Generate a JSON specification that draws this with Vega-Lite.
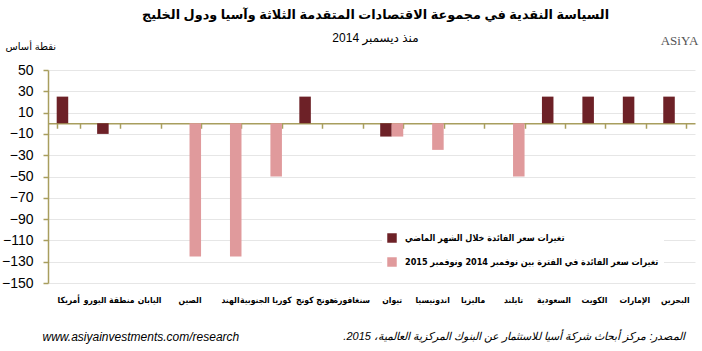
{
  "$schema": "https://vega.github.io/schema/vega-lite/v6.json",
  "width": 647,
  "height": 213,
  "autosize": {"type": "none"},
  "padding": {"left": 48, "top": 70, "right": 7, "bottom": 68},
  "background": "white",
  "config": {"view": {"stroke": null}, "font": "Liberation Sans, DejaVu Sans"},
  "title": {
    "text": "السياسة النقدية في مجموعة الاقتصادات المتقدمة الثلاثة وآسيا ودول الخليج",
    "subtitle": "منذ ديسمبر 2014",
    "anchor": "middle",
    "font": "Liberation Sans, DejaVu Sans",
    "fontSize": 12.8,
    "fontWeight": "bold",
    "color": "black",
    "subtitleFont": "Liberation Sans, DejaVu Sans",
    "subtitleFontSize": 12,
    "subtitleColor": "black",
    "subtitlePadding": 11,
    "offset": -10,
    "dx": 4
  },
  "data": {
    "values": [
      {"country": "أمريكا", "series": "تغيرات سعر الفائدة خلال الشهر الماضي", "value": 25},
      {"country": "أمريكا", "series": "تغيرات سعر الفائدة في الفترة بين نوفمبر 2014 ونوفمبر 2015", "value": 0},
      {"country": "منطقة اليورو", "series": "تغيرات سعر الفائدة خلال الشهر الماضي", "value": -10},
      {"country": "منطقة اليورو", "series": "تغيرات سعر الفائدة في الفترة بين نوفمبر 2014 ونوفمبر 2015", "value": 0},
      {"country": "اليابان", "series": "تغيرات سعر الفائدة خلال الشهر الماضي", "value": 0},
      {"country": "اليابان", "series": "تغيرات سعر الفائدة في الفترة بين نوفمبر 2014 ونوفمبر 2015", "value": 0},
      {"country": "الصين", "series": "تغيرات سعر الفائدة خلال الشهر الماضي", "value": 0},
      {"country": "الصين", "series": "تغيرات سعر الفائدة في الفترة بين نوفمبر 2014 ونوفمبر 2015", "value": -125},
      {"country": "الهند", "series": "تغيرات سعر الفائدة خلال الشهر الماضي", "value": 0},
      {"country": "الهند", "series": "تغيرات سعر الفائدة في الفترة بين نوفمبر 2014 ونوفمبر 2015", "value": -125},
      {"country": "كوريا الجنوبية", "series": "تغيرات سعر الفائدة خلال الشهر الماضي", "value": 0},
      {"country": "كوريا الجنوبية", "series": "تغيرات سعر الفائدة في الفترة بين نوفمبر 2014 ونوفمبر 2015", "value": -50},
      {"country": "هونج كونج", "series": "تغيرات سعر الفائدة خلال الشهر الماضي", "value": 25},
      {"country": "هونج كونج", "series": "تغيرات سعر الفائدة في الفترة بين نوفمبر 2014 ونوفمبر 2015", "value": 0},
      {"country": "سنغافورة", "series": "تغيرات سعر الفائدة خلال الشهر الماضي", "value": 0},
      {"country": "سنغافورة", "series": "تغيرات سعر الفائدة في الفترة بين نوفمبر 2014 ونوفمبر 2015", "value": 0},
      {"country": "تيوان", "series": "تغيرات سعر الفائدة خلال الشهر الماضي", "value": -12.5},
      {"country": "تيوان", "series": "تغيرات سعر الفائدة في الفترة بين نوفمبر 2014 ونوفمبر 2015", "value": -12.5},
      {"country": "اندونيسيا", "series": "تغيرات سعر الفائدة خلال الشهر الماضي", "value": 0},
      {"country": "اندونيسيا", "series": "تغيرات سعر الفائدة في الفترة بين نوفمبر 2014 ونوفمبر 2015", "value": -25},
      {"country": "ماليزيا", "series": "تغيرات سعر الفائدة خلال الشهر الماضي", "value": 0},
      {"country": "ماليزيا", "series": "تغيرات سعر الفائدة في الفترة بين نوفمبر 2014 ونوفمبر 2015", "value": 0},
      {"country": "تايلند", "series": "تغيرات سعر الفائدة خلال الشهر الماضي", "value": 0},
      {"country": "تايلند", "series": "تغيرات سعر الفائدة في الفترة بين نوفمبر 2014 ونوفمبر 2015", "value": -50},
      {"country": "السعودية", "series": "تغيرات سعر الفائدة خلال الشهر الماضي", "value": 25},
      {"country": "السعودية", "series": "تغيرات سعر الفائدة في الفترة بين نوفمبر 2014 ونوفمبر 2015", "value": 0},
      {"country": "الكويت", "series": "تغيرات سعر الفائدة خلال الشهر الماضي", "value": 25},
      {"country": "الكويت", "series": "تغيرات سعر الفائدة في الفترة بين نوفمبر 2014 ونوفمبر 2015", "value": 0},
      {"country": "الإمارات", "series": "تغيرات سعر الفائدة خلال الشهر الماضي", "value": 25},
      {"country": "الإمارات", "series": "تغيرات سعر الفائدة في الفترة بين نوفمبر 2014 ونوفمبر 2015", "value": 0},
      {"country": "البحرين", "series": "تغيرات سعر الفائدة خلال الشهر الماضي", "value": 25},
      {"country": "البحرين", "series": "تغيرات سعر الفائدة في الفترة بين نوفمبر 2014 ونوفمبر 2015", "value": 0}
    ]
  },
  "layer": [
    {
      "mark": {"type": "bar"},
      "encoding": {
        "x": {
          "field": "country",
          "type": "nominal",
          "sort": null,
          "scale": {"paddingInner": 0.43, "paddingOuter": 0.215},
          "axis": {
            "orient": "bottom",
            "offset": -159.75,
            "domainColor": "#a89e5e",
            "domainWidth": 1.5,
            "tickColor": "#a89e5e",
            "tickSize": 5,
            "tickWidth": 1.5,
            "tickBand": "extent",
            "labelPadding": 167,
            "labelFontSize": 8.5,
            "labelFontWeight": "bold",
            "labelFont": "DejaVu Sans Condensed, DejaVu Sans",
            "labelColor": "black",
            "labelAngle": 0,
            "labelOverlap": false,
            "labelBound": false,
            "labelOffset": {"condition": [{"test": "datum.value === 'كوريا الجنوبية'", "value": -5}, {"test": "datum.value === 'هونج كونج'", "value": 4}], "value": 0},
            "grid": false,
            "title": "المصدر: مركز أبحاث شركة أسيا للاستثمار عن البنوك المركزية العالمية، 2015.\u200f",
            "titleX": 637,
            "titleY": 212.75,
            "titleAlign": "right",
            "titleBaseline": "middle",
            "titleAngle": 0,
            "titleFontSize": 11,
            "titleFontStyle": "italic",
            "titleFontWeight": "normal",
            "titleColor": "black",
            "titleFont": "Liberation Sans, DejaVu Sans"
          }
        },
        "xOffset": {
          "field": "series",
          "type": "nominal",
          "scale": {"domain": ["تغيرات سعر الفائدة خلال الشهر الماضي", "تغيرات سعر الفائدة في الفترة بين نوفمبر 2014 ونوفمبر 2015"], "paddingInner": 0, "paddingOuter": 0}
        },
        "y": {
          "field": "value",
          "type": "quantitative",
          "scale": {"domain": [-150, 50], "nice": false, "zero": false},
          "axis": {
            "values": [-150, -130, -110, -90, -70, -50, -30, -10, 10, 30, 50],
            "domainColor": "#a89e5e",
            "domainWidth": 1.5,
            "tickColor": "#a89e5e",
            "tickSize": 5,
            "tickWidth": 1.5,
            "labelFontSize": 14,
            "labelColor": "black",
            "labelPadding": 10,
            "labelFont": "Liberation Sans",
            "gridColor": "#e6e6e6",
            "gridWidth": 1,
            "title": "نقطة أساس",
            "titleAngle": 0,
            "titleAlign": "left",
            "titleBaseline": "middle",
            "titleX": -43,
            "titleY": -24,
            "titleFontSize": 10,
            "titleFontWeight": "normal",
            "titleColor": "black",
            "titleFont": "Liberation Sans, DejaVu Sans"
          }
        },
        "color": {
          "field": "series",
          "type": "nominal",
          "scale": {"domain": ["تغيرات سعر الفائدة خلال الشهر الماضي", "تغيرات سعر الفائدة في الفترة بين نوفمبر 2014 ونوفمبر 2015"], "range": ["#6d2127", "#e09a9c"]},
          "legend": {
            "orient": "none",
            "legendX": 334,
            "legendY": 158,
            "title": null,
            "fillColor": "white",
            "padding": 5,
            "symbolType": "square",
            "symbolSize": 90,
            "symbolStrokeWidth": 0,
            "symbolOpacity": 1,
            "labelFontSize": 9,
            "labelFontWeight": "bold",
            "labelFont": "DejaVu Sans Condensed, DejaVu Sans",
            "labelColor": "black",
            "labelOffset": 8,
            "rowPadding": 14,
            "labelLimit": 300
          }
        }
      }
    },
    {
      "mark": {"type": "point", "opacity": 0},
      "encoding": {
        "x": {
          "field": "country",
          "type": "nominal",
          "sort": null,
          "axis": {
            "orient": "top",
            "domain": false,
            "ticks": false,
            "labels": false,
            "grid": false,
            "title": "www.asiyainvestments.com/research",
            "titleX": -6,
            "titleY": 266,
            "titleAlign": "left",
            "titleBaseline": "middle",
            "titleAngle": 0,
            "titleFontSize": 12,
            "titleFontStyle": "italic",
            "titleFontWeight": "normal",
            "titleColor": "black",
            "titleFont": "Liberation Sans"
          }
        },
        "y": {
          "field": "value",
          "type": "quantitative",
          "axis": {
            "orient": "right",
            "domain": false,
            "ticks": false,
            "labels": false,
            "grid": false,
            "title": "ASiYA",
            "titleX": -16,
            "titleY": -30,
            "titleAlign": "center",
            "titleBaseline": "middle",
            "titleAngle": 0,
            "titleFontSize": 13,
            "titleFontWeight": "normal",
            "titleColor": "#555555",
            "titleFont": "Liberation Serif"
          }
        }
      }
    }
  ],
  "resolve": {"axis": {"x": "independent", "y": "independent"}}
}
